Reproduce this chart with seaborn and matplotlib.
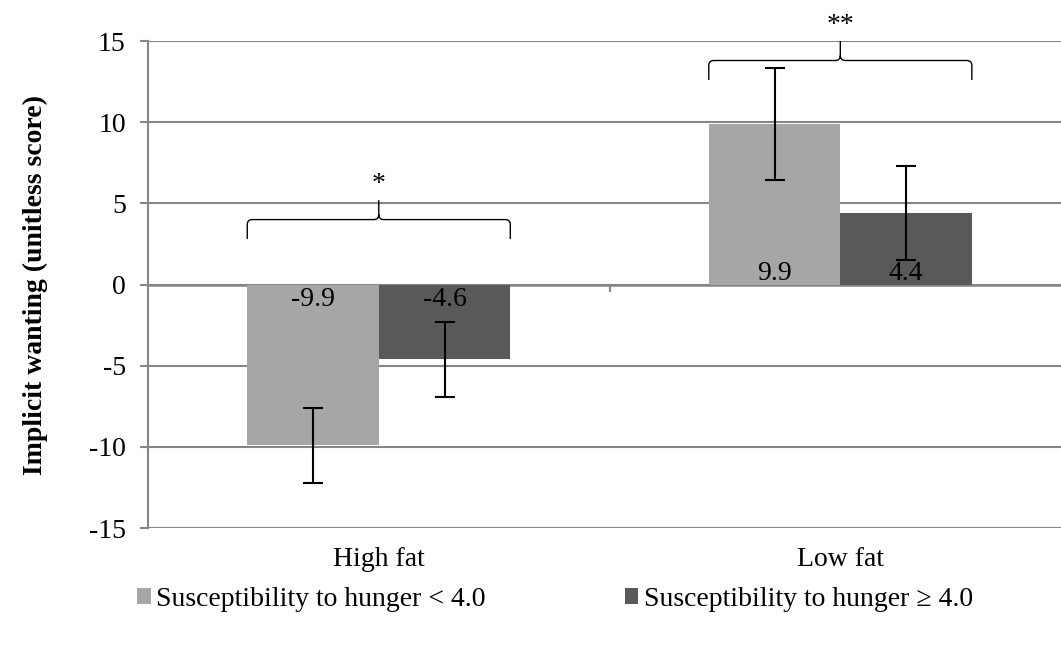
import matplotlib
matplotlib.use("Agg")
import matplotlib.pyplot as plt
import seaborn as sns
import pandas as pd
from matplotlib.path import Path
from matplotlib.patches import PathPatch

# values
categories = ['High fat', 'Low fat']
groups = ['Susceptibility to hunger < 4.0', 'Susceptibility to hunger \u2265 4.0']
low_means = [-9.9, 9.9]
high_means = [-4.6, 4.4]
low_err = [2.3, 3.45]
high_err = [2.3, 2.9]
brace_y = [4.0, 13.8]
sig_labels = ['*', '**']

df = pd.DataFrame({
    'food': categories * 2,
    'group': [groups[0]] * 2 + [groups[1]] * 2,
    'score': low_means + high_means,
    'err': low_err + high_err,
})

sns.set_theme(style='white')
plt.rcParams['font.family'] = ['Liberation Serif', 'DejaVu Serif']
plt.rcParams['axes.unicode_minus'] = False
plt.rcParams['text.color'] = 'black'
plt.rcParams['axes.labelcolor'] = 'black'

grey = '#868686'
fig = plt.figure(figsize=(10.61, 6.47), dpi=100)
ax = fig.add_axes([0.1395, 0.1839, 0.870, 0.7527])

sns.barplot(data=df, x='food', y='score', hue='group', order=categories,
            hue_order=groups, palette=['#A6A6A6', '#595959'], width=0.57,
            gap=0, errorbar=None, saturation=1, edgecolor='none', ax=ax, zorder=2)

ax.set_xlim(-0.5, 1.5)
ax.set_ylim(-15, 15)
ax.set_yticks(range(-15, 20, 5))
ax.grid(axis='y', color=grey, lw=1.5, zorder=0)
ax.set_axisbelow(True)
ax.axhline(0, color=grey, lw=1.8, zorder=1)
ax.vlines(0.5, -0.45, 0, color=grey, lw=1.5, zorder=1)

for s in ['top', 'right', 'bottom']:
    ax.spines[s].set_visible(False)
ax.spines['left'].set_color(grey)
ax.spines['left'].set_linewidth(1.5)
ax.tick_params(axis='y', direction='out', left=True, length=6, width=1.5,
               color=grey, labelsize=20, pad=10, labelcolor='black')
ax.tick_params(axis='x', length=0, labelsize=20, pad=14, labelcolor='black')
ax.set_xlabel('')
ax.set_ylabel('Implicit wanting (unitless score)', fontsize=20, fontweight='bold')
ax.yaxis.set_label_coords(-0.108, 0.5)

# error bars and value labels
bar_spans = []
for container, group in zip(ax.containers, groups):
    sub = df[df.group == group].set_index('food').loc[categories]
    xs = [b.get_x() + b.get_width() / 2 for b in container]
    bar_spans.append([(b.get_x(), b.get_x() + b.get_width()) for b in container])
    ax.errorbar(xs, sub.score, yerr=sub.err, fmt='none', ecolor='black',
                elinewidth=1.5, capsize=7, capthick=1.5, zorder=4)
    for x, v in zip(xs, sub.score):
        if v < 0:
            ax.annotate(f'{v:.1f}', (x, 0), xytext=(0, -2), textcoords='offset points',
                        ha='center', va='top', fontsize=20, color='black', zorder=5)
        else:
            ax.annotate(f'{v:.1f}', (x, 0), xytext=(0, 3.5), textcoords='offset points',
                        ha='center', va='baseline', fontsize=20, color='black', zorder=5)


def brace(ax, x0, x1, y, d=1.2, rx=0.011, ry=0.31):
    xm = (x0 + x1) / 2
    verts = [(x0, y - d), (x0, y - ry), (x0, y), (x0 + rx, y),
             (xm - rx, y), (xm, y), (xm, y + ry), (xm, y + d),
             (xm, y + ry), (xm, y), (xm + rx, y),
             (x1 - rx, y), (x1, y), (x1, y - ry), (x1, y - d)]
    codes = [Path.MOVETO, Path.LINETO, Path.CURVE3, Path.CURVE3,
             Path.LINETO, Path.CURVE3, Path.CURVE3, Path.LINETO,
             Path.MOVETO, Path.CURVE3, Path.CURVE3,
             Path.LINETO, Path.CURVE3, Path.CURVE3, Path.LINETO]
    ax.add_patch(PathPatch(Path(verts, codes), fill=False, edgecolor='black',
                           lw=1.0, clip_on=False, zorder=5))
    return xm, y + d


for i, (yb, lab) in enumerate(zip(brace_y, sig_labels)):
    x0 = bar_spans[0][i][0]
    x1 = bar_spans[1][i][1]
    xm, ytip = brace(ax, x0, x1, yb)
    ax.text(xm, ytip + 0.55, lab, ha='center', va='baseline', fontsize=20,
            color='black', clip_on=False)

sns.move_legend(ax, 'center', bbox_to_anchor=(0.523, 0.074),
                bbox_transform=fig.transFigure, ncol=2, frameon=False,
                title=None, fontsize=20, handlelength=0.5, handleheight=0.5,
                handletextpad=0.2, columnspacing=5.0, labelcolor='black')

fig.savefig('out.png', dpi=100)
